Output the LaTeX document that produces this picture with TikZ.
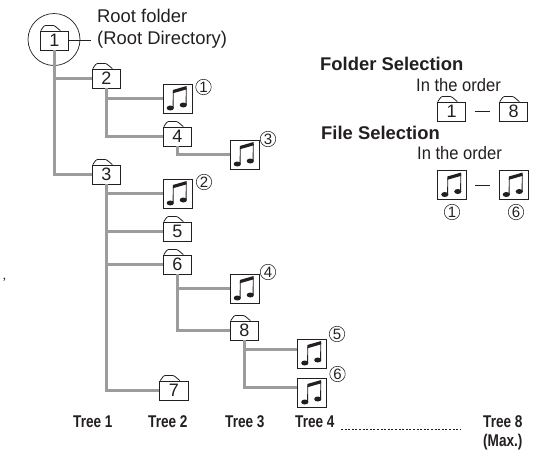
\documentclass[tikz,border=0pt]{standalone}
\usepackage{fontspec}
\usetikzlibrary{calc}
\setmainfont{Liberation Sans}
\newfontfamily\condbold[FakeStretch=0.8]{Liberation Sans}
\newfontfamily\condreg[FakeStretch=0.92]{Liberation Sans}
\newfontfamily\serifont{Liberation Serif}
\definecolor{ink}{HTML}{231F20}
\definecolor{linegray}{HTML}{9C9C9C}
\tikzset{
  folder/.style={draw=ink,line width=0.9pt,fill=white,minimum width=28.5pt,minimum height=19pt,
    inner sep=0pt,font=\fontsize{18}{18}\selectfont,text=ink,
    append after command={\pgfextra{
      \draw[ink,line width=0.8pt,line join=round,rounded corners=1pt]
        ([xshift=1pt]\tikzlastnode.north west) -- ++(3.5,-5) -- ++(10,0) -- ++(6,5);}}},
  musicbox/.style={draw=ink,line width=0.9pt,fill=white,minimum size=29pt,inner sep=0pt,
    path picture={
      \begin{scope}[shift={(path picture bounding box.center)}]
        \fill[ink,rotate around={25:(-7.2,9.5)}] (-7.2,9.5) ellipse (3.6 and 2.5);
        \fill[ink,rotate around={25:(5.8,6.5)}] (5.8,6.5) ellipse (3.6 and 2.5);
        \draw[ink,line width=0.9pt] (-4.4,9) -- (-4.2,-6.5);
        \draw[ink,line width=0.9pt] (8.6,6) -- (8.8,-10.5);
        \fill[ink] (-4.7,-8.5) -- (9.2,-12.5) -- (9.2,-9.2) -- (-4.7,-5.2) -- cycle;
      \end{scope}}},
  conn/.style={draw=linegray,line width=2.3pt,line join=miter},
  leader/.style={draw=ink,line width=0.7pt},
  orderdash/.style={draw=ink,line width=0.8pt,shorten >=8.5pt,shorten <=8.5pt},
  circnum/.style={circle,draw=ink,line width=0.55pt,minimum size=15.5pt,inner sep=0pt,
    font=\fontsize{15}{15}\selectfont,text=ink},
  plain/.style={font=\fontsize{18.4}{18.4}\selectfont,text=ink,inner sep=0pt,anchor=west},
  orderlab/.style={font=\condreg\fontsize{18}{18}\selectfont,text=ink,inner sep=0pt,anchor=west},
  heading/.style={font=\bfseries\fontsize{18.4}{18.4}\selectfont,text=ink,inner sep=0pt,anchor=west},
  treelab/.style={font=\condbold\bfseries\fontsize{17}{17}\selectfont,text=ink,inner sep=0pt,anchor=west},
}
\begin{document}
\begin{tikzpicture}[x=1pt,y=-1pt]
\useasboundingbox (0,0) rectangle (543,450);
\node[folder] (f1) at (54.5,40.5) {1};
\node[folder] (f2) at (106.5,78.5) {2};
\node[folder] (f3) at (106.5,174.5) {3};
\node[folder] (f4) at (177.5,136.5) {4};
\node[folder] (f5) at (177.5,231.5) {5};
\node[folder] (f6) at (177.5,264.5) {6};
\node[folder] (f7) at (174,390.5) {7};
\node[folder] (f8) at (244.5,330.5) {8};
\node[musicbox] (m1) at (177.5,98.5) {};
\node[musicbox] (m2) at (177.5,193.5) {};
\node[musicbox] (m3) at (244.5,154.5) {};
\node[musicbox] (m4) at (244.5,288.5) {};
\node[musicbox] (m5) at (312,353.5) {};
\node[musicbox] (m6) at (312,392.5) {};
\node[circle,draw=ink,line width=0.7pt,minimum size=52pt,inner sep=0pt] (root) at (54,39.5) {};
\coordinate (rootlead) at (91,40.5);
\draw[leader] (f1.east) -- (rootlead);
% tree
\draw[conn] (f1.south) -- (f1.south |- f3.west) -- (f3.west);
\draw[conn] (f1.south |- f2.west) -- (f2.west);
\draw[conn] (f2.south) -- (f2.south |- f4.west) -- (f4.west);
\draw[conn] (f2.south |- m1.west) -- (m1.west);
\draw[conn] (f4.south) -- (f4.south |- m3.west) -- (m3.west);
\draw[conn] (f3.south) -- (f3.south |- f7.west) -- (f7.west);
\draw[conn] (f3.south |- m2.west) -- (m2.west);
\draw[conn] (f3.south |- f5.west) -- (f5.west);
\draw[conn] (f3.south |- f6.west) -- (f6.west);
\draw[conn] (f6.south) -- (f6.south |- f8.west) -- (f8.west);
\draw[conn] (f6.south |- m4.west) -- (m4.west);
\draw[conn] (f8.south) -- ($(f8.south |- m6.west)+(0,-5)$) -- ($(m6.west)+(0,-5)$);
\draw[conn] ($(f8.south |- m5.west)+(0,-4)$) -- ($(m5.west)+(0,-4)$);
% circled numbers
\node[circnum] (c1) at (203.5,87) {1};
\node[circnum] (c2) at (204,182) {2};
\node[circnum] (c3) at (268,139) {3};
\node[circnum] (c4) at (268,272) {4};
\node[circnum] (c5) at (337,334) {5};
\node[circnum] (c6) at (337.5,374) {6};
% labels
\node[plain] (rt1) at (97,16) {Root folder};
\node[plain] (rt2) at (97,40) {(Root Directory)};
\node[heading] (h1) at (320,64) {Folder Selection};
\node[orderlab] (o1) at (416,85) {In the order};
\node[folder] (sf1) at (451.5,111.5) {1};
\node[folder] (sf8) at (513.5,111.5) {8};
\draw[orderdash] (sf1) -- (sf8);
\node[heading] (h2) at (321,133) {File Selection};
\node[orderlab] (o2) at (417,153) {In the order};
\node[musicbox] (sm1) at (452,185) {};
\node[musicbox] (sm6) at (513.5,185) {};
\draw[orderdash] (sm1) -- (sm6);
\node[circnum] (sc1) at (452,212) {1};
\node[circnum] (sc6) at (516,212) {6};
% tree captions
\node[treelab] (t1) at (73,422) {Tree 1};
\node[treelab] (t2) at (148,422) {Tree 2};
\node[treelab] (t3) at (225,422) {Tree 3};
\node[treelab] (t4) at (295,422) {Tree 4};
\node[treelab] (t8) at (483,422) {Tree 8};
\node[treelab] (tm) at (483,442.5) {(Max.)};
\coordinate (dota) at (341,429);
\coordinate (dotb) at (461,429);
\draw[ink,line width=0.7pt,dash pattern=on 2pt off 1.6pt] (dota) -- (dotb);
\node[font=\serifont\fontsize{13}{13}\selectfont,text=ink,inner sep=0pt] (stray) at (4.5,280) {,};
\end{tikzpicture}
\end{document}
